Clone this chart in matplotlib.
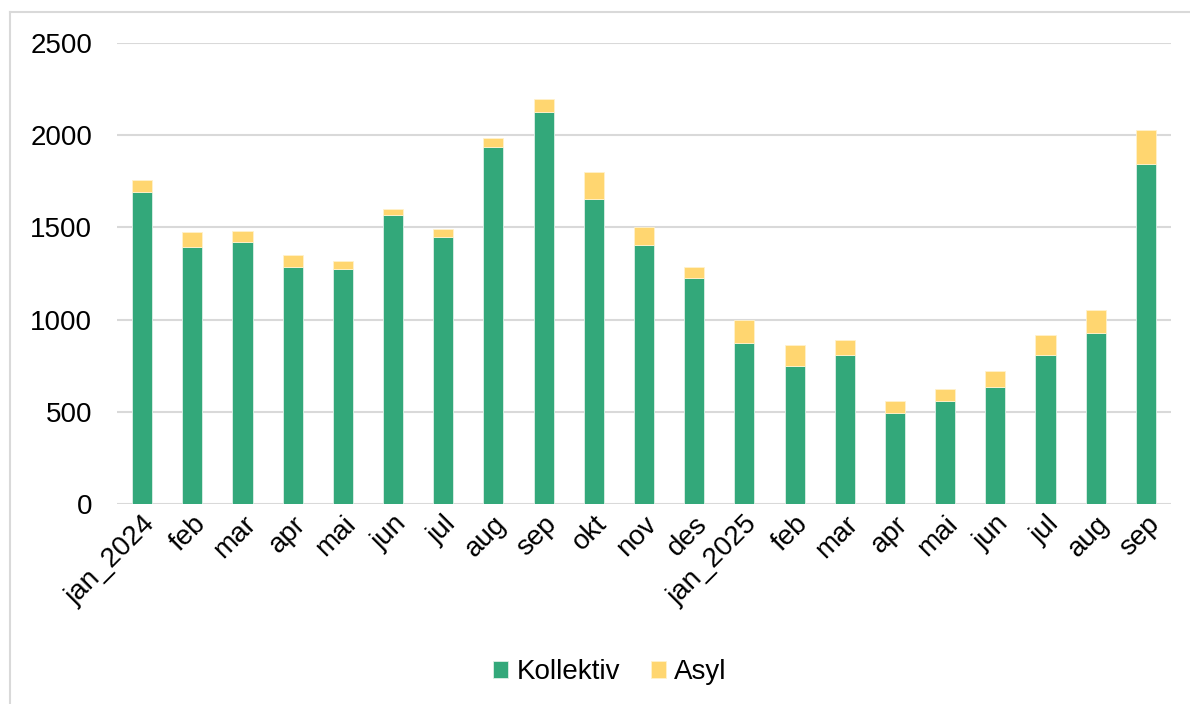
import matplotlib.pyplot as plt
from matplotlib.lines import Line2D

plt.rcParams["font.family"] = ["Liberation Sans", "DejaVu Sans"]

months = ["jan_2024", "feb", "mar", "apr", "mai", "jun", "jul", "aug", "sep", "okt", "nov", "des",
          "jan_2025", "feb", "mar", "apr", "mai", "jun", "jul", "aug", "sep"]
kollektiv = [1692, 1394, 1421, 1285, 1274, 1567, 1448, 1936, 2126, 1654, 1405, 1226,
             873, 748, 808, 493, 559, 634, 808, 927, 1844]
asyl = [65, 81, 59, 65, 44, 33, 43, 49, 70, 146, 97, 59,
        125, 114, 81, 66, 65, 87, 108, 125, 184]

green = "#33A87A"
yellow = "#FFD670"

fig = plt.figure(figsize=(11.9, 7.04), dpi=100)
ax = fig.add_axes([117 / 1190, 200 / 704, 1054 / 1190, 461 / 704])

x = list(range(len(months)))
ax.bar(x, kollektiv, width=0.4, color=green, edgecolor="#DDEFE6", linewidth=0.6, label="Kollektiv", zorder=3)
ax.bar(x, asyl, width=0.4, bottom=kollektiv, color=yellow, edgecolor="#FFF2CC", linewidth=0.6, label="Asyl", zorder=3)

ax.set_xlim(-0.5, len(months) - 0.5)
ax.set_ylim(0, 2500)
ax.set_yticks([0, 500, 1000, 1500, 2000, 2500])
ax.yaxis.grid(True, color="#D9D9D9", linewidth=1.5, zorder=0)
ax.set_axisbelow(True)
for s in ax.spines.values():
    s.set_visible(False)
ax.tick_params(axis="both", length=0, labelsize=20, colors="black")
ax.tick_params(axis="y", pad=18)
ax.set_xticks(x)
ax.set_xticklabels(months, rotation=45, ha="right", rotation_mode="anchor")
ax.tick_params(axis="x", pad=5)

fig.legend(loc="center", bbox_to_anchor=(610 / 1190, 32 / 704), ncol=2, frameon=False, fontsize=20,
           handlelength=0.55, handleheight=0.55, handletextpad=0.3, columnspacing=1.1)

# chart border (left and top)
fig.add_artist(Line2D([10 / 1190, 10 / 1190], [0, 1 - 12 / 704], transform=fig.transFigure, color="#D9D9D9", linewidth=1.5))
fig.add_artist(Line2D([10 / 1190, 1], [1 - 12 / 704, 1 - 12 / 704], transform=fig.transFigure, color="#D9D9D9", linewidth=1.5))

fig.savefig("out.png", dpi=100)
